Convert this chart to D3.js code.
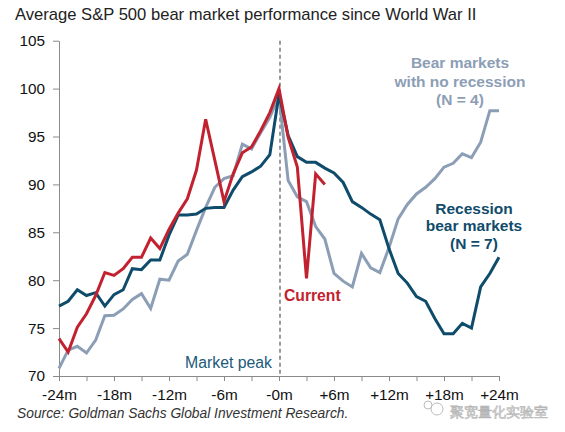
<!DOCTYPE html>
<html>
<head>
<meta charset="utf-8">
<script src="https://cdn.jsdelivr.net/npm/d3@7"></script>
<style>
  html, body { margin: 0; padding: 0; background: #fff; }
  svg { display: block; }
  text { font-family: "Liberation Sans", Arial, sans-serif; }
</style>
</head>
<body>
<svg id="chart" width="565" height="432"></svg>
<script>
// ---- data ----
const months = d3.range(-24, 25); // -24 .. +24
const recession = [77.3, 77.8, 79.0, 78.4, 78.7, 77.3, 78.5, 79.0, 81.2, 81.1, 82.1, 82.1, 84.7, 86.8, 86.8, 86.9, 87.5, 87.6, 87.6, 89.4, 90.8, 91.3, 91.9, 93.1, 99.4,
  95.1, 92.9, 92.3, 92.3, 91.7, 91.2, 90.2, 88.2, 87.6, 86.9, 86.3, 83.3, 80.7, 79.7, 78.3, 77.8, 76.0, 74.4, 74.4, 75.5, 75.0, 79.3, 80.7, 82.4];
const noRecession = [70.8, 72.7, 73.1, 72.4, 73.75, 76.3, 76.35, 77.0, 78.0, 78.6, 77.05, 80.1, 80.0, 82.0, 82.7, 85.2, 87.6, 89.7, 90.6, 90.9, 94.2, 93.7, 95.4, 97.0, 99.2,
  90.4, 88.7, 88.2, 85.6, 84.3, 80.7, 79.9, 79.3, 82.8, 81.3, 80.8, 83.4, 86.4, 87.9, 89.0, 89.7, 90.6, 91.8, 92.2, 93.2, 92.8, 94.4, 97.7, 97.7];
const current = [73.9, 72.5, 75.1, 76.5, 78.4, 80.8, 80.5, 81.2, 82.4, 82.4, 84.4, 83.3, 85.3, 87.0, 88.5, 91.5, 96.8, 92.5, 88.2, 91.1, 93.3, 93.9, 95.6, 97.5, 100,
  94.9, 91.8, 80.2, 91.1, 90.0];
const yTicks = [70, 75, 80, 85, 90, 95, 100, 105];
const xTicks = d3.range(-24, 25, 3);
const xLabels = {"-24": "-24m", "-18": "-18m", "-12": "-12m", "-6": "-6m", "0": "-0m", "6": "+6m", "12": "+12m", "18": "+18m", "24": "+24m"};

const colors = { recession: "#0f4b6a", noRecession: "#8c9eb5", current: "#c2222f" };

// ---- chart ----
const svg = d3.select("#chart");
const x = d3.scaleLinear().domain([-24, 24]).range([59, 499]);
const y = d3.scaleLinear().domain([70, 105]).range([376, 40.7]);

// title
svg.append("text").attr("x", 15).attr("y", 20)
  .attr("font-size", 16.6).attr("fill", "#222")
  .text("Average S&P 500 bear market performance since World War II");

// y axis
const yAxis = svg.append("g").attr("transform", `translate(${x(-24)},0)`)
  .call(d3.axisLeft(y).tickValues(yTicks).tickSize(6).tickSizeOuter(0).tickPadding(8));
yAxis.select(".domain").attr("stroke", "#8a8a8a");
yAxis.selectAll(".tick line").attr("stroke", "#8a8a8a");
yAxis.selectAll("text").attr("font-size", 15.3).attr("fill", "#111")
  .attr("font-family", "Liberation Sans, Arial, sans-serif");

// x axis
const xAxis = svg.append("g").attr("transform", `translate(0,${y(70)})`)
  .call(d3.axisBottom(x).tickValues(xTicks).tickSize(5).tickSizeOuter(0)
    .tickFormat(d => xLabels[String(d)] || ""));
xAxis.select(".domain").attr("stroke", "#8a8a8a");
xAxis.selectAll(".tick line").attr("stroke", "#8a8a8a");
xAxis.selectAll("text").attr("font-size", 15.3).attr("fill", "#111")
  .attr("y", 24).attr("dy", 0)
  .attr("font-family", "Liberation Sans, Arial, sans-serif");

// market peak dashed line
svg.append("line")
  .attr("x1", x(0) + 1).attr("x2", x(0) + 1)
  .attr("y1", y(105)).attr("y2", y(70))
  .attr("stroke", "#7a7a7a").attr("stroke-width", 1.5)
  .attr("stroke-dasharray", "4,3");

const line = d3.line().x((d, i) => x(months[i])).y(d => y(d));

function drawSeries(vals, color) {
  svg.append("path").datum(vals)
    .attr("d", line)
    .attr("fill", "none")
    .attr("stroke", color)
    .attr("stroke-width", 3)
    .attr("stroke-linejoin", "miter");
}
drawSeries(noRecession, colors.noRecession);
drawSeries(recession, colors.recession);
drawSeries(current, colors.current);

// annotations
svg.append("text").attr("x", 272).attr("y", 368).attr("text-anchor", "end")
  .attr("font-size", 15.8).attr("fill", "#1b5a7a").text("Market peak");

svg.append("text").attr("x", 284).attr("y", 300.5)
  .attr("font-size", 15.7).attr("font-weight", "bold").attr("fill", colors.current).text("Current");

const nr = svg.append("text").attr("text-anchor", "middle")
  .attr("font-size", 15.5).attr("font-weight", "bold").attr("fill", colors.noRecession);
[["Bear markets", 68], ["with no recession", 86.5], ["(N = 4)", 105]].forEach(([t, yy]) =>
  nr.append("tspan").attr("x", 460).attr("y", yy).text(t));

const rc = svg.append("text").attr("text-anchor", "middle")
  .attr("font-size", 15.5).attr("font-weight", "bold").attr("fill", colors.recession);
[["Recession", 213.5], ["bear markets", 231], ["(N = 7)", 248.5]].forEach(([t, yy]) =>
  rc.append("tspan").attr("x", 474).attr("y", yy).text(t));

// source
svg.append("text").attr("x", 17).attr("y", 418)
  .attr("font-size", 13.8).attr("font-style", "italic").attr("fill", "#333")
  .text("Source: Goldman Sachs Global Investment Research.");

// watermark (logo + text)
const wm = svg.append("g").attr("fill", "none").attr("stroke", "#bdbdbd").attr("stroke-width", 1);
wm.append("circle").attr("cx", 437).attr("cy", 409).attr("r", 6);
wm.append("circle").attr("cx", 428).attr("cy", 405).attr("r", 4);
svg.append("text").attr("x", 450).attr("y", 417)
  .attr("font-family", "Noto Sans CJK SC").attr("font-size", 14)
  .attr("fill", "#e6e6e6").attr("stroke", "#b5b5b5").attr("stroke-width", 0.6)
  .text("聚宽量化实验室");
</script>
</body>
</html>
